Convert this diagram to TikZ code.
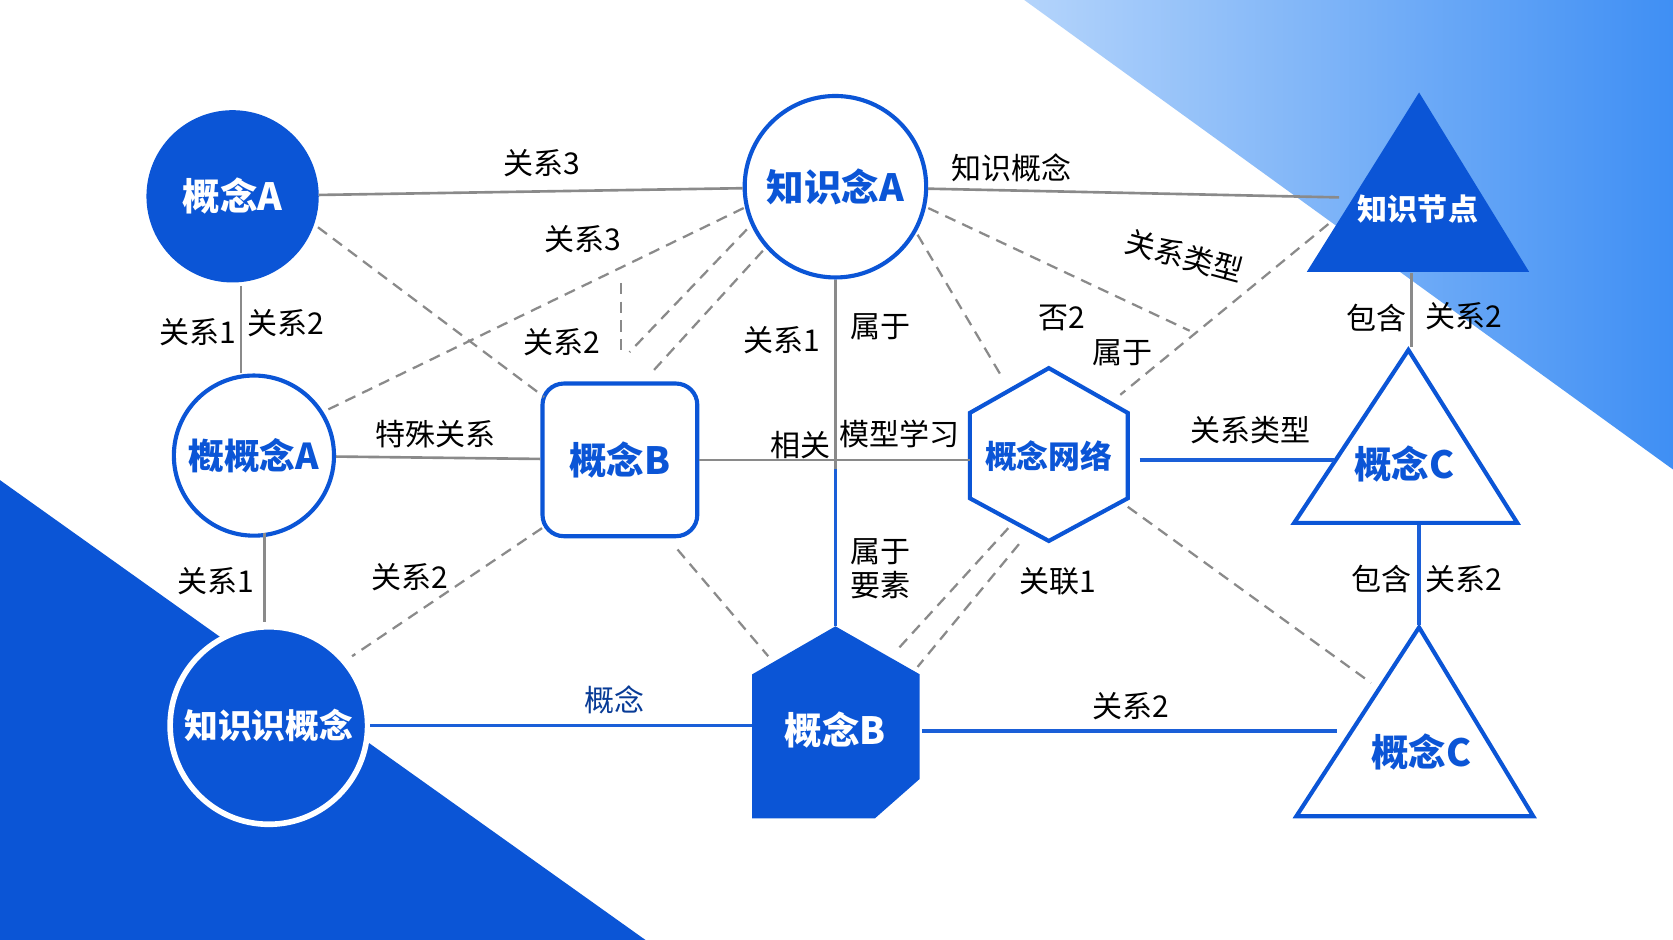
\documentclass[tikz,border=0pt]{standalone}
\usepackage{fontspec}
\setmainfont{Noto Sans CJK SC}
\usepackage{tikz}
\usetikzlibrary{calc,shapes.geometric,arrows.meta}
\definecolor{mainblue}{HTML}{0B55D6}
\definecolor{lineblue}{HTML}{1A5FD8}
\definecolor{skyA}{HTML}{B4D4FB}
\definecolor{skyB}{HTML}{3F8FF4}
\definecolor{linegray}{HTML}{8A8A8A}
\tikzset{
  lbl/.style={font=\fontsize{8}{9}\selectfont, text=black, inner sep=1pt},
  ttl/.style={font=\fontsize{10}{11}\bfseries\selectfont, inner sep=0pt},
  solidc/.style={draw=mainblue, fill=mainblue, text=white, ttl},
  hollowc/.style={draw=mainblue, line width=1.1pt, fill=white, text=mainblue, ttl},
  grayline/.style={draw=linegray, line width=0.7pt},
  blueline/.style={draw=lineblue, line width=1pt},
  dashline/.style={draw=linegray, line width=0.6pt, dash pattern=on 3pt off 2pt}
}
\begin{document}
\begin{tikzpicture}[x=0.01cm,y=-0.01cm]
  \useasboundingbox (0,0) rectangle (1568,881);
  %% background
  \fill[white] (0,0) rectangle (1568,881);
  \shade[left color=skyA, right color=skyB] (960,0) -- (1568,0) -- (1568,440) -- cycle;
  \fill[mainblue] (0,450) -- (605,881) -- (0,881) -- cycle;

  %% concept nodes
  \node[circle, solidc, minimum size=1.6cm] (CA) at (218,184) {概念A};
  \node[circle, hollowc, minimum size=1.7cm] (KA) at (783,175) {知识念A};
  \node[circle, hollowc, minimum size=1.5cm, font=\fontsize{9.5}{10}\bfseries\selectfont] (CA2) at (238,427) {槪概念A};
  \node[rectangle, rounded corners=0.2cm, hollowc, minimum width=1.45cm, minimum height=1.43cm] (CB) at (581,431) {概念B};
  \node[circle, draw=white, line width=1.5pt, fill=mainblue, text=white, ttl, minimum size=1.85cm, font=\fontsize{9}{10}\bfseries\selectfont] (KC) at (252,680) {知识识概念};

  %% hexagon, triangles and pentagon
  \filldraw[draw=mainblue, fill=white, line width=1.1pt] (983,345) -- (1057,387) -- (1057,467) -- (983,507) -- (909,467) -- (909,387) -- cycle;
  \node[ttl, text=mainblue, font=\fontsize{8.5}{10}\bfseries\selectfont] (HX) at (983,428) {概念网络};
  \filldraw[mainblue, line width=1pt] (1330,90) -- (1430,253) -- (1228,253) -- cycle;
  \node[ttl, text=white, font=\fontsize{8}{10}\bfseries\selectfont] (KN) at (1329,196) {知识节点};
  \filldraw[draw=mainblue, fill=white, line width=1.1pt] (1320,328) -- (1422,490) -- (1213,490) -- cycle;
  \node[ttl, text=mainblue] (CC1) at (1316,435) {概念C};
  \filldraw[draw=mainblue, fill=white, line width=1.1pt] (1330,588) -- (1437,765) -- (1215,765) -- cycle;
  \node[ttl, text=mainblue] (CC2) at (1332,705) {概念C};
  \fill[mainblue] (705,632) -- (783,587) -- (862,632) -- (862,730) -- (820,767) -- (705,767) -- cycle;
  \node[ttl, text=white] (PB) at (783,684) {概念B};

  %% connector ends
  \coordinate (KNl) at (1255,185);
  \coordinate (KNb) at (1323,256);
  \coordinate (C1t) at (1323,325);
  \coordinate (C1l) at (1250,431);
  \coordinate (C1b) at (1330,492);
  \coordinate (C2t) at (1330,586);
  \coordinate (C2l) at (1253,685);
  \coordinate (PBt) at (783,587);
  \coordinate (PBl) at (705,680);
  \coordinate (PBr) at (864,685);
  \coordinate (MID) at (783,440);
  \coordinate (HXl) at (909,431);
  \coordinate (HXr) at (1068,431);

  %% solid connectors
  \draw[grayline] (CA) -- (KA);
  \draw[grayline] (KA) -- (KNl);
  \draw[grayline] (226,268) -- (226,350);
  \draw[grayline] (248,500) -- (248,583);
  \draw[grayline] (CA2) -- (CB);
  \draw[grayline] (CB) -- (HXl);
  \draw[grayline] (KA) -- (MID);
  \draw[blueline] (MID) -- (PBt);
  \draw[blueline] (HXr) -- (C1l);
  \draw[blueline] (KC) -- (PBl);
  \draw[blueline] (PBr) -- (C2l);
  \draw[grayline] (KNb) -- (C1t);
  \draw[blueline] (C1b) -- (C2t);

  %% dashed connectors
  \draw[dashline] (298,213) -- (510,372);
  \draw[dashline] (697,195) -- (305,385);
  \draw[dashline] (582,265) -- (582,335);
  \draw[dashline] (700,215) -- (590,330);
  \draw[dashline] (715,235) -- (610,350);
  \draw[dashline] (860,220) -- (940,355);
  \draw[dashline] (870,195) -- (1115,310);
  \draw[dashline] (1245,210) -- (1050,370);
  \draw[dashline] (508,495) -- (330,615);
  \draw[dashline] (635,515) -- (720,615);
  \draw[dashline] (945,495) -- (840,610);
  \draw[dashline] (955,510) -- (860,625);
  \draw[dashline] (1057,475) -- (1285,640);

  %% labels
  \foreach \x/\y/\t in {508/153/关系3, 546/224/关系3, 948/157/知识概念,
      185/311/关系1, 268/303/关系2, 527/321/关系2, 733/319/关系1,
      825/306/属于, 995/298/否2, 1052/331/属于, 1290/298/包含, 1372/296/关系2,
      408/407/特殊关系, 750/417/相关, 843/407/模型学习, 1172/403/关系类型,
      202/545/关系1, 384/541/关系2, 825/517/属于, 825/548/要素, 991/545/关联1,
      1295/543/包含, 1372/543/关系2, 1060/662/关系2}
    \node[lbl] at (\x,\y) {\t};
  \node[lbl, text=mainblue!70!black] at (576,656) {概念};
  \node[lbl, rotate=-15] at (1110,240) {关系类型};
\end{tikzpicture}
\end{document}
